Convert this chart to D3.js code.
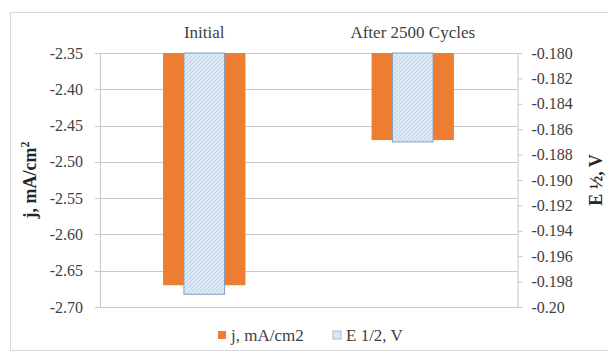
<!DOCTYPE html>
<html><head><meta charset="utf-8">
<script src="https://cdn.jsdelivr.net/npm/d3@7/dist/d3.min.js"></script>
<style>body{margin:0;background:#fff}svg{display:block}svg text{font-family:"Liberation Serif","Times New Roman",serif !important}</style>
</head><body><svg id="c" width="608" height="358"></svg>
<script>
const categories = ["Initial", "After 2500 Cycles"];
const jValues = [-2.67, -2.47];
const eValues = [-0.199, -0.187];
const leftTicks = [-2.35, -2.40, -2.45, -2.50, -2.55, -2.60, -2.65, -2.70];
const rightTicks = [-0.180, -0.182, -0.184, -0.186, -0.188, -0.190, -0.192, -0.194, -0.196, -0.198, -0.20];
const rightTickLabels = ["-0.180","-0.182","-0.184","-0.186","-0.188","-0.190","-0.192","-0.194","-0.196","-0.198","-0.20"];
const seriesNames = ["j, mA/cm2", "E 1/2, V"];

const svg = d3.select("#c");
const defs = svg.append("defs");
const pat = defs.append("pattern").attr("id","hatch").attr("patternUnits","userSpaceOnUse")
  .attr("width",4).attr("height",4);
pat.append("rect").attr("width",4).attr("height",4).attr("fill","#dbe9f7");
pat.append("path").attr("d","M-1,1 l2,-2 M0,4 l4,-4 M3,5 l2,-2").attr("stroke","#b7cfe6").attr("stroke-width",0.8);

// chart border
svg.append("rect").attr("x",10.5).attr("y",12.5).attr("width",620).attr("height",338)
  .attr("fill","none").attr("stroke","#d9d9d9");

const L = 100, R = 517, T = 53, B = 307;
const x = d3.scaleBand().domain(categories).range([L, R]).padding(0);
const yL = d3.scaleLinear().domain([-2.70, -2.35]).range([B, T]);
const yR = d3.scaleLinear().domain([-0.20, -0.18]).range([B, T]);

// gridlines
svg.append("g").selectAll("line").data(leftTicks).join("line")
  .attr("x1", L-5).attr("x2", R).attr("y1", d=>Math.round(yL(d))+0.5).attr("y2", d=>Math.round(yL(d))+0.5)
  .attr("stroke","#c8c8c8").attr("stroke-width",1.2);

// left axis
const axL = d3.axisLeft(yL).tickValues(leftTicks).tickFormat(d=>d.toFixed(2)).tickSize(0).tickPadding(17);
const gL = svg.append("g").attr("transform",`translate(${L},0)`).call(axL);
gL.attr("font-family",null);
gL.select(".domain").attr("stroke","#c8c8c8");
gL.selectAll("text").attr("font-size",16).attr("fill","#404040");

// right axis
const axR = d3.axisRight(yR).tickValues(rightTicks).tickFormat((d,i)=>rightTickLabels[i]).tickSize(5).tickSizeOuter(0).tickPadding(9);
const gR = svg.append("g").attr("transform",`translate(${R+0.5},0)`).call(axR);
gR.attr("font-family",null);
gR.select(".domain").attr("stroke","#c8c8c8");
gR.selectAll(".tick line").attr("stroke","#c8c8c8");
gR.selectAll("text").attr("font-size",16).attr("fill","#404040");

// category labels at top
svg.append("g").selectAll("text").data(categories).join("text")
  .attr("x", d=>x(d)+x.bandwidth()/2).attr("y", 38).attr("text-anchor","middle")
  .attr("font-size",17).attr("fill","#404040").text(d=>d);

// j bars (primary)
const jW = x.bandwidth()*0.395;
svg.append("g").selectAll("rect").data(jValues).join("rect")
  .attr("x",(d,i)=>x(categories[i])+x.bandwidth()/2-jW/2).attr("width",jW)
  .attr("y", yL(-2.35)).attr("height", d=>yL(d)-yL(-2.35))
  .attr("fill","#ed7d31");

// E bars (secondary)
const eW = x.bandwidth()*0.195;
svg.append("g").selectAll("rect").data(eValues).join("rect")
  .attr("x",(d,i)=>x(categories[i])+x.bandwidth()/2-eW/2).attr("width",eW)
  .attr("y", yR(-0.18)).attr("height", d=>yR(d)-yR(-0.18))
  .attr("fill","url(#hatch)").attr("stroke","#7f9fc4").attr("stroke-width",1);

// axis titles
svg.append("text").attr("transform","translate(36,180) rotate(-90)").attr("text-anchor","middle")
  .attr("font-size",18).attr("font-weight","bold").attr("fill","#262626")
  .html('j, mA/cm<tspan dy="-7" font-size="12">2</tspan>');
svg.append("text").attr("transform","translate(602,180) rotate(-90)").attr("text-anchor","middle")
  .attr("font-size",18).attr("font-weight","bold").attr("fill","#262626")
  .text("E ½, V");

// legend
const leg = svg.append("g");
const legX = [218, 333];
leg.selectAll("rect").data(seriesNames).join("rect")
  .attr("x",(d,i)=>legX[i]).attr("y",331).attr("width",8).attr("height",8)
  .attr("fill",(d,i)=> i===0 ? "#ed7d31" : "#dbe9f7").attr("stroke",(d,i)=> i===0 ? "none" : "#9dbbe0");
leg.selectAll("text").data(seriesNames).join("text")
  .attr("x",(d,i)=>legX[i]+13).attr("y",341).attr("font-size",17).attr("fill","#404040").text(d=>d);
</script></body></html>
